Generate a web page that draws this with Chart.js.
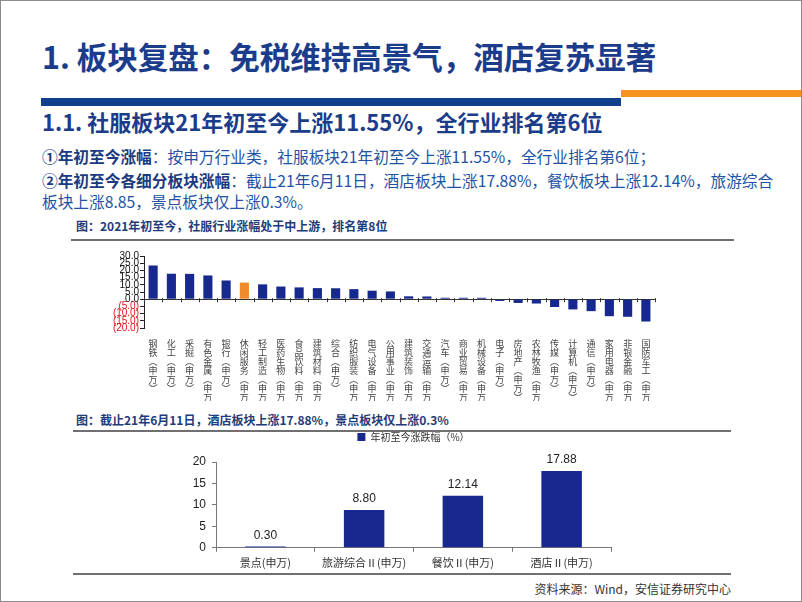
<!DOCTYPE html>
<html>
<head>
<meta charset="utf-8">
<script src="https://cdn.jsdelivr.net/npm/chart.js@4.4.0/dist/chart.umd.min.js"></script>
<style>
    body { margin: 0; background: #fff; font-family: "Noto Sans CJK SC", sans-serif; }
    #slide { position: absolute; left: 0; top: 0; width: 800px; height: 600px; border: 1px solid #8c8c8c; overflow: hidden; }
    .abs { position: absolute; white-space: nowrap; }
    .title { left: 41px; top: 35px; font-size: 30.5px; font-weight: bold; color: #1b3c8a; line-height: 40px; }
    .sub { left: 41px; top: 106px; font-size: 22px; font-weight: bold; color: #1b3c8a; line-height: 28px; }
    .body { left: 41px; font-size: 15.7px; color: #2352a3; line-height: 22px; }
    .body b { color: #1b3a80; }
    .cap { left: 75px; font-size: 12px; font-weight: bold; color: #1f3c7a; line-height: 16px; }
    .rule { position: absolute; height: 2px; background: #707070; }
    .src { right: 70px; top: 580px; font-size: 12px; color: #333; line-height: 16px; }
    canvas { position: absolute; }
</style>
</head>
<body>
<div id="slide">
    <div class="abs title">1. 板块复盘：免税维持高景气，酒店复苏显著</div>
    <div class="abs" style="left:40px;top:97px;width:580px;height:8px;background:#123f8c;"></div>
    <div class="abs" style="left:620px;top:89px;width:182px;height:7px;background:#f7941d;"></div>
    <div class="abs sub">1.1. 社服板块21年初至今上涨11.55%，全行业排名第6位</div>
    <div class="abs body" style="top:145px;"><b>①年初至今涨幅</b>：按申万行业类，社服板块21年初至今上涨11.55%，全行业排名第6位；</div>
    <div class="abs body" style="top:169px;"><b>②年初至今各细分板块涨幅</b>：截止21年6月11日，酒店板块上涨17.88%，餐饮板块上涨12.14%，旅游综合</div>
    <div class="abs body" style="top:190px;">板块上涨8.85，景点板块仅上涨0.3%。</div>

    <div class="abs cap" style="top:217px;">图：2021年初至今，社服行业涨幅处于中上游，排名第8位</div>
    <div class="rule" style="left:70px;top:238px;width:663px;"></div>
    <canvas id="industryChart"></canvas>

    <div class="abs cap" style="top:411px;">图：截止21年6月11日，酒店板块上涨17.88%，景点板块仅上涨0.3%</div>
    <div class="rule" style="left:72px;top:429px;width:658px;"></div>
    <canvas id="subChart"></canvas>
    <div class="rule" style="left:72px;top:572px;width:658px;"></div>
    <div class="abs src">资料来源：Wind，安信证券研究中心</div>
</div>
<script>
// 申万一级行业 2021年初至今涨跌幅(%)
const industryNames = ['钢铁', '化工', '采掘', '有色金属', '银行', '休闲服务', '轻工制造', '医药生物',
    '食品饮料', '建筑材料', '综合', '纺织服装', '电气设备', '公用事业', '建筑装饰', '交通运输', '汽车',
    '商业贸易', '机械设备', '电子', '房地产', '农林牧渔', '传媒', '计算机', '通信', '家用电器', '非银金融', '国防军工'];
const industryReturns = [23.4, 17.7, 17.6, 16.5, 13.0, 11.55, 10.3, 8.8, 8.2, 7.7, 7.6, 7.0, 5.9, 5.4,
    2.0, 1.9, 1.0, 1.0, 1.0, -1.2, -2.6, -3.0, -5.4, -7.1, -8.3, -11.8, -12.2, -15.5];
const highlightName = '休闲服务';
const industryTicks = [-20, -15, -10, -5, 0, 5, 10, 15, 20, 25, 30];

// 社服细分板块涨跌幅(%)
const subNames = ['景点(申万)', '旅游综合Ⅱ(申万)', '餐饮Ⅱ(申万)', '酒店Ⅱ(申万)'];
const subReturns = [0.30, 8.80, 12.14, 17.88];
const subTicks = [0, 5, 10, 15, 20];
const subLegend = '年初至今涨跌幅（%）';

const BLUE = '#17288f';
const ORANGE = '#f08a2c';

function place(id, left, top, width, height) {
    const c = document.getElementById(id);
    c.style.left = left + 'px';
    c.style.top = top + 'px';
    c.style.width = width + 'px';
    c.style.height = height + 'px';
    c.width = width;
    c.height = height;
    return c.getContext('2d');
}

// stack characters so the labels read top to bottom
function verticalLabel(name) {
    return (name + '(申万)').replace('(', '︵').replace(')', '︶').split('');
}

// short marks on the zero line between categories
const zeroMarks = {
    id: 'zeroMarks',
    afterDatasetsDraw(chart) {
        const x = chart.scales.x;
        const y0 = chart.scales.y.getPixelForValue(0);
        const n = x.ticks.length;
        const ctx = chart.ctx;
        ctx.save();
        ctx.strokeStyle = '#333';
        ctx.lineWidth = 1;
        for (let i = 0; i <= n; i++) {
            let px;
            if (i === 0) px = x.left;
            else if (i === n) px = x.right;
            else px = (x.getPixelForTick(i - 1) + x.getPixelForTick(i)) / 2;
            px = Math.round(px) + 0.5;
            ctx.beginPath();
            ctx.moveTo(px, y0 - 1);
            ctx.lineTo(px, y0 + 3);
            ctx.stroke();
        }
        ctx.restore();
    }
};

const valueLabels = {
    id: 'valueLabels',
    afterDatasetsDraw(chart) {
        const ctx = chart.ctx;
        const meta = chart.getDatasetMeta(0);
        ctx.save();
        ctx.font = '12px "Liberation Sans"';
        ctx.fillStyle = '#222';
        ctx.textAlign = 'center';
        ctx.textBaseline = 'bottom';
        meta.data.forEach((bar, i) => {
            ctx.fillText(subReturns[i].toFixed(2), bar.x, bar.y - 5);
        });
        ctx.restore();
    }
};

// the original legend sits centred over the plot, not over the whole canvas
const legendOverPlot = {
    id: 'legendOverPlot',
    afterLayout(chart) {
        const lg = chart.legend;
        const shift = (chart.chartArea.left + chart.chartArea.right) / 2 - (lg.left + lg.right) / 2;
        lg.left += shift;
        lg.right += shift;
    }
};

new Chart(place('industryChart', 95, 245, 570, 155), {
    type: 'bar',
    data: {
        labels: industryNames.map(verticalLabel),
        datasets: [{
            data: industryReturns,
            backgroundColor: industryNames.map(n => n === highlightName ? ORANGE : BLUE),
            barPercentage: 0.5,
            categoryPercentage: 1
        }]
    },
    options: {
        responsive: false,
        animation: false,
        layout: { padding: { top: 10, right: 11 } },
        plugins: { legend: { display: false }, tooltip: { enabled: false } },
        scales: {
            x: {
                grid: { display: false },
                border: { display: false },
                afterFit: (scale) => { scale.height = 73; },
                ticks: {
                    maxRotation: 0,
                    autoSkip: false,
                    padding: 3,
                    color: '#444',
                    font: { family: '"Noto Sans CJK SC"', size: 9, lineHeight: 1.0 }
                }
            },
            y: {
                min: -20,
                max: 30,
                afterFit: (scale) => { scale.width = 48; },
                afterBuildTicks: (axis) => { axis.ticks = industryTicks.map(v => ({ value: v })); },
                border: { display: true, color: '#222' },
                grid: {
                    color: (ctx) => ctx.tick && ctx.tick.value === 0 ? '#333' : 'rgba(0,0,0,0)',
                    tickColor: '#222',
                    tickLength: 4
                },
                ticks: {
                    autoSkip: false,
                    padding: 1,
                    color: (ctx) => ctx.tick.value < 0 ? '#e8141c' : '#111',
                    font: { family: '"Liberation Sans"', size: 10, lineHeight: 1 },
                    callback: (v) => v < 0 ? '(' + Math.abs(v).toFixed(1) + ')' : v.toFixed(1)
                }
            }
        }
    },
    plugins: [zeroMarks]
});

new Chart(place('subChart', 175, 423, 436, 149), {
    type: 'bar',
    data: {
        labels: subNames,
        datasets: [{
            label: subLegend,
            data: subReturns,
            backgroundColor: BLUE,
            barPercentage: 0.41,
            categoryPercentage: 1
        }]
    },
    options: {
        responsive: false,
        animation: false,
        layout: { padding: { right: 1 } },
        plugins: {
            tooltip: { enabled: false },
            // empty title used as a gap between the legend and the plot
            title: { display: true, text: ' ', font: { size: 1, lineHeight: 1 }, padding: { top: 0, bottom: 9 } },
            legend: {
                weight: 3000,
                labels: {
                    boxWidth: 8,
                    boxHeight: 8,
                    padding: 8,
                    color: '#333',
                    font: { family: '"Noto Sans CJK SC"', size: 10, lineHeight: 2.8 }
                }
            }
        },
        scales: {
            x: {
                border: { display: true, color: '#777' },
                grid: { offset: true, drawOnChartArea: false, color: '#777', tickLength: 4 },
                ticks: {
                    padding: 4,
                    color: '#333',
                    font: { family: '"Noto Sans CJK SC"', size: 11 }
                }
            },
            y: {
                min: 0,
                max: 20,
                afterFit: (scale) => { scale.width = 40; },
                afterBuildTicks: (axis) => { axis.ticks = subTicks.map(v => ({ value: v })); },
                border: { display: true, color: '#777' },
                grid: { drawOnChartArea: false, color: '#777', tickLength: 4 },
                ticks: {
                    padding: 6,
                    color: '#222',
                    font: { family: '"Liberation Sans"', size: 12 }
                }
            }
        }
    },
    plugins: [valueLabels, legendOverPlot]
});
</script>
</body>
</html>
